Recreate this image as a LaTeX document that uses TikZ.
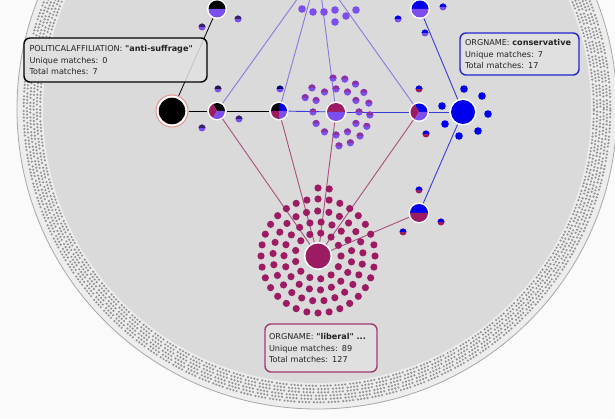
\documentclass[tikz,border=0pt]{standalone}
\usepackage{fontspec}
\setmainfont{DejaVu Sans}[Ligatures=TeXOff]
\definecolor{pagebg}{HTML}{FAFAFA}
\definecolor{bandgray}{HTML}{EDEDED}
\definecolor{rimgray}{HTML}{A8A8A8}
\definecolor{diskgray}{HTML}{DADADA}
\definecolor{dotgray}{HTML}{939393}
\definecolor{crim}{HTML}{9C1B62}
\definecolor{purp}{HTML}{7C4EEE}
\definecolor{blu}{HTML}{0000EE}
\definecolor{lnpurp}{HTML}{8A78E0}
\definecolor{lnblue}{HTML}{3A3ADA}
\definecolor{lncrim}{HTML}{A8507E}
\definecolor{pinkring}{HTML}{E6928F}
\definecolor{boxfill}{HTML}{E2E2E2}
\definecolor{txt}{HTML}{222222}
\definecolor{consblue}{HTML}{2424D0}
\definecolor{libcrim}{HTML}{A33A74}
\colorlet{dk}{black!55!purp}
\colorlet{ctop}{crim!55!purp}
\newcommand\wdg[5]{\fill[#5] (#1.center) -- ++(#3:#2) arc[start angle=#3,end angle=#4,radius=#2] -- cycle;}
\newcommand\sdot[4]{\fill[#4] (#1) circle[radius=#2];\fill[#3] (#1) ++(0:#2) arc[start angle=0,end angle=180,radius=#2] -- cycle;}
\tikzset{
  edgep/.style={draw=lnpurp, line width=0.9pt},
  edgeb/.style={draw=lnblue, line width=0.9pt},
  edgec/.style={draw=lncrim, line width=0.9pt},
  edgek/.style={draw=black, line width=0.8pt},
  nd/.style={circle, fill=white, inner sep=0pt},
  infobox/.style={rounded corners=6pt, fill=boxfill, fill opacity=0.85, text opacity=1,
    line width=1.4pt, align=left, inner sep=0pt, text=txt,
    font=\fontsize{8.1}{11.5}\selectfont},
  ringdots/.style={dotgray, line width=2.4pt, line cap=round,
    dash pattern=on 0pt off 3.3pt on 0pt off 3.3pt on 0pt off 3.3pt on 0pt off 4.8pt}
}
\begin{document}
\begin{tikzpicture}[x=1pt,y=-1pt]
\useasboundingbox (0,0) rectangle (615,419);
\clip (0,0) rectangle (615,419);
\fill[pagebg] (0,0) rectangle (615,419);
% big circular canvas
\coordinate (O) at (317,109);
\fill[bandgray] (O) circle[radius=300pt];
\draw[rimgray, line width=0.8pt] (O) circle[radius=300pt];
\fill[diskgray] (O) circle[radius=274pt];
\foreach \rr/\ph in {276.8pt/0pt, 280.1pt/1.6pt, 283.4pt/0.8pt, 286.7pt/2.2pt, 290pt/1.2pt, 293.3pt/2.6pt}
  \draw[ringdots, dash phase=\ph] (O) circle[radius=\rr];
% nodes
\coordinate (hub) at (318,-30);
\node[nd, minimum size=20pt] (G) at (217,9) {};
\node[nd, minimum size=20pt] (F) at (420,9) {};
\node[circle, fill=white, draw=pinkring, line width=1pt, inner sep=0pt, minimum size=32pt] (K) at (172,111) {};
\node[nd, minimum size=19pt] (A) at (217,111) {};
\node[nd, minimum size=19pt] (B) at (279,111) {};
\node[nd, minimum size=21pt] (C) at (336,112) {};
\node[nd, minimum size=20pt] (D) at (419,112) {};
\node[nd, minimum size=27pt] (E) at (463,112) {};
\node[nd, minimum size=21pt] (H) at (419,213) {};
\node[nd, minimum size=28pt] (L) at (318,256) {};
% connectors
\draw[edgep] (hub) -- (A);
\draw[edgep] (hub) -- (B);
\draw[edgep] (hub) -- (C);
\draw[edgep] (hub) -- (D);
\draw[edgek] (G) -- (K);
\draw[edgek] (K) -- (A);
\draw[edgek] (A) -- (B);
\draw[edgeb] (B) -- (C);
\draw[edgeb] (C) -- (D);
\draw[edgeb] (D) -- (E);
\draw[edgeb] (F) -- (E);
\draw[edgeb] (E) -- (H);
\draw[edgec] (A) -- (L);
\draw[edgec] (B) -- (L);
\draw[edgec] (C) -- (L);
\draw[edgec] (D) -- (L);
\draw[edgec] (H) -- (L);
% node fills
\fill[black] (K.center) circle[radius=13.3pt];
\wdg{G}{8.5pt}{0}{180}{black}\wdg{G}{8.5pt}{180}{360}{purp}
\wdg{F}{8.5pt}{0}{180}{blu}\wdg{F}{8.5pt}{180}{360}{purp}
\wdg{A}{8pt}{0}{120}{black}\wdg{A}{8pt}{120}{240}{crim}\wdg{A}{8pt}{240}{360}{purp}
\wdg{B}{8pt}{0}{90}{blu}\wdg{B}{8pt}{90}{180}{black}\wdg{B}{8pt}{180}{270}{crim}\wdg{B}{8pt}{270}{360}{purp}
\wdg{C}{9pt}{0}{180}{crim}\wdg{C}{9pt}{180}{360}{purp}
\wdg{D}{8.5pt}{0}{120}{blu}\wdg{D}{8.5pt}{120}{240}{crim}\wdg{D}{8.5pt}{240}{360}{purp}
\fill[blu] (E.center) circle[radius=12pt];
\wdg{H}{9pt}{0}{180}{blu}\wdg{H}{9pt}{180}{360}{crim}
\fill[crim] (L.center) circle[radius=12.5pt];
% liberal cluster
\begin{scope}[shift={(L)}]
\foreach \r/\n/\o in {23pt/13/0, 34pt/19/9, 45pt/25/4, 57pt/32/90}
  \foreach \i in {1,...,\n}
    \fill[crim] ({\o+360*\i/\n}:\r) circle[radius=3.6pt];
\fill[crim] (90:68pt) circle[radius=3.6pt];
\fill[crim] (80.5:68pt) circle[radius=3.6pt];
\end{scope}
% middle cluster
\begin{scope}[shift={(C)}]
\foreach \a in {0,30,...,330} {\sdot{\a:23pt}{3.6pt}{ctop}{purp}}
\foreach \a in {-85,-65,...,95,135,155} {\sdot{\a:34pt}{3.6pt}{ctop}{purp}}
\end{scope}
% top cluster
\foreach \p in {{302,9},{313,12},{324,12},{335,10},{346,16},{335,22},{356,10}}
  \fill[purp] (\p) circle[radius=3.8pt];
% satellites
\sdot{202,27}{3.5pt}{dk}{purp}
\sdot{238,19}{3.5pt}{dk}{purp}
\sdot{218,89}{3.5pt}{black!70!purp}{purp}
\sdot{239,119}{3.5pt}{dk}{purp}
\sdot{202,128}{3.5pt}{dk}{purp}
\sdot{280,89}{3.5pt}{black!50!blu}{purp}
\sdot{398,19}{3.5pt}{blu}{purp}
\sdot{425,33}{3.5pt}{blu}{purp}
\sdot{443,7}{3.5pt}{blu}{purp}
\sdot{419,89}{3.5pt}{blu}{crim}
\sdot{426,134}{3.5pt}{blu}{crim}
\sdot{419,190}{3.5pt}{blu}{crim}
\sdot{441,222}{3.5pt}{blu}{crim}
\sdot{403,232}{3.5pt}{blu}{crim}
\foreach \p in {{464,89},{482,96},{488,114},{478,131},{459,136},{445,124},{442,106}}
  \fill[blu] (\p) circle[radius=3.8pt];
% info boxes
\node[infobox, draw=black, minimum width=183pt, minimum height=44pt, text width=172pt] (anti) at (115.5,60)
  {POLITICALAFFILIATION: \textbf{"anti-suffrage"}\\Unique matches: 0\\Total matches: 7};
\node[infobox, draw=consblue, minimum width=119pt, minimum height=42pt, text width=109pt] (cons) at (519.5,54)
  {ORGNAME: \textbf{conservative}\\Unique matches: 7\\Total matches: 17};
\node[infobox, draw=libcrim, minimum width=112pt, minimum height=48pt, text width=104pt] (lib) at (321,348)
  {ORGNAME: \textbf{"liberal" ...}\\Unique matches: 89\\Total matches: 127};
\end{tikzpicture}
\end{document}
